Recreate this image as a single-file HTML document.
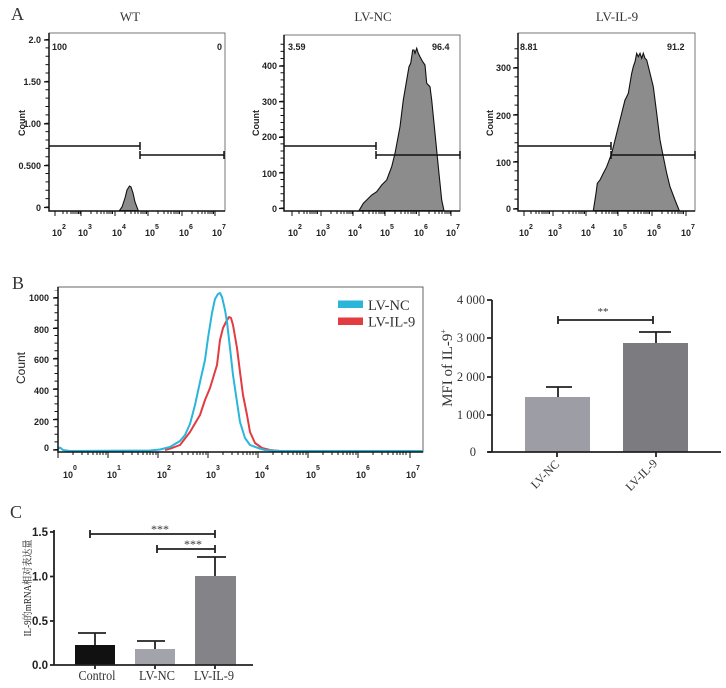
<!DOCTYPE html>
<html><head><meta charset="utf-8"><style>
html,body{margin:0;padding:0;background:#fff;}
svg{display:block;}
.fb{font-family:"Liberation Sans",Arial,sans-serif;font-weight:bold;font-size:9px;fill:#222;}
.sr{font-family:"Liberation Serif","Noto Serif CJK SC",serif;fill:#333;}
</style></head><body>
<svg width="726" height="688" viewBox="0 0 726 688" xmlns="http://www.w3.org/2000/svg">
<rect width="726" height="688" fill="#fff"/>

<!-- Panel labels -->
<text x="11" y="20" class="sr" font-size="18" fill="#222">A</text>
<text x="12" y="289" class="sr" font-size="18" fill="#222">B</text>
<text x="10" y="518" class="sr" font-size="18" fill="#222">C</text>

<!-- ================= A1 WT ================= -->
<text x="130" y="21" class="sr" font-size="13" text-anchor="middle">WT</text>
<rect x="49" y="33" width="176" height="178" fill="none" stroke="#555" stroke-width="0.8"/>
<polygon points="119.3,210.7 122,207 125,198 127,190 129.5,186 131,187 133,193 135,202 138.3,210.7" fill="#8c8c8c" stroke="#111" stroke-width="1.1"/>
<g stroke="#111" stroke-width="1.5" fill="none">
<path d="M49 33V211H225"/>
<path d="M49 146H140M140 142V150M140 155H224M140 151V159M224 151V159"/>
</g>
<line x1="47" y1="207.5" x2="47" y2="36" stroke="#111" stroke-width="3" stroke-dasharray="1 7.375"/>
<path d="M44 207.5h5M44 165.6h5M44 123.8h5M44 81.9h5M44 40h5" stroke="#111" stroke-width="1.3"/>
<path stroke="#111" stroke-width="1" d="M55 211m8 0v3m4-3v3m4-3v3m2-3v3m2-3v3m2-3v3m1.5-3v3m1.5-3v3
M81 211m10 0v3m6-3v3m4-3v3m3-3v3m3-3v3m2-3v3m2-3v3m1.5-3v3
M115 211m10 0v3m6-3v3m4-3v3m3-3v3m3-3v3m2-3v3m2-3v3m1.5-3v3
M148 211m10 0v3m6-3v3m4-3v3m3-3v3m3-3v3m2-3v3m2-3v3m1.5-3v3
M182 211m10 0v3m6-3v3m4-3v3m3-3v3m3-3v3m2-3v3m2-3v3m1.5-3v3
M55 211v5M81 211v5M115 211v5M148 211v5M182 211v5M215 211v5"/>
<g class="fb" text-anchor="end">
<text x="41" y="43">2.0</text><text x="41" y="85">1.50</text><text x="41" y="127">1.00</text><text x="41" y="169">0.500</text><text x="41" y="211">0</text>
</g>
<text class="fb" transform="translate(25,123) rotate(-90)" text-anchor="middle">Count</text>
<text class="fb" x="52" y="50">100</text>
<text class="fb" x="222" y="50" text-anchor="end">0</text>
<g class="fb">
<text x="52" y="236">10<tspan dy="-7" font-size="7">2</tspan></text>
<text x="78" y="236">10<tspan dy="-7" font-size="7">3</tspan></text>
<text x="112" y="236">10<tspan dy="-7" font-size="7">4</tspan></text>
<text x="145" y="236">10<tspan dy="-7" font-size="7">5</tspan></text>
<text x="179" y="236">10<tspan dy="-7" font-size="7">6</tspan></text>
<text x="212" y="236">10<tspan dy="-7" font-size="7">7</tspan></text>
</g>

<!-- ================= A2 LV-NC ================= -->
<text x="373" y="21" class="sr" font-size="13" text-anchor="middle">LV-NC</text>
<rect x="284" y="35" width="176" height="176" fill="none" stroke="#555" stroke-width="0.8"/>
<polygon points="359,210.7 363.3,203.3 366.7,200 371.7,195 376.7,191.7 381.7,185 386.7,180 391.7,166.7 395,153.3 400,126.7 403.3,100 406.7,80 409,66.7 410.7,63.3 412.7,50 414,50 415,53.3 416.7,48.3 418.3,53.3 420,56.7 422.7,61.7 425,65 426.7,83.3 430,86.7 431.7,100 435,133.3 438.3,166.7 441.7,200 444,210.7" fill="#8c8c8c" stroke="#111" stroke-width="1.1"/>
<g stroke="#111" stroke-width="1.5" fill="none">
<path d="M284 35V211H460"/>
<path d="M284 146H376M376 142V150M376 155H460M376 151V159M460 151V159"/>
</g>
<line x1="282" y1="208.5" x2="282" y2="40" stroke="#111" stroke-width="3" stroke-dasharray="1 6.12"/>
<path d="M279 208.5h5M279 172.9h5M279 137.3h5M279 101.7h5M279 66.1h5" stroke="#111" stroke-width="1.3"/>
<path stroke="#111" stroke-width="1" d="M292 211m7 0v3m5-3v3m3-3v3m3-3v3m2-3v3m2-3v3m2-3v3m1.5-3v3
M321 211m10 0v3m6-3v3m4-3v3m3-3v3m3-3v3m2-3v3m2-3v3m1.5-3v3
M353 211m10 0v3m6-3v3m4-3v3m3-3v3m3-3v3m2-3v3m2-3v3m1.5-3v3
M385 211m10 0v3m6-3v3m4-3v3m3-3v3m3-3v3m2-3v3m2-3v3m1.5-3v3
M419 211m10 0v3m6-3v3m4-3v3m3-3v3m3-3v3m2-3v3m2-3v3m1.5-3v3
M292 211v5M321 211v5M353 211v5M385 211v5M419 211v5M451 211v5"/>
<g class="fb" text-anchor="end">
<text x="277" y="69">400</text><text x="277" y="105">300</text><text x="277" y="140">200</text><text x="277" y="177">100</text><text x="277" y="212">0</text>
</g>
<text class="fb" transform="translate(259,123) rotate(-90)" text-anchor="middle">Count</text>
<text class="fb" x="288" y="50">3.59</text>
<text class="fb" x="432" y="50">96.4</text>
<g class="fb">
<text x="288" y="236">10<tspan dy="-7" font-size="7">2</tspan></text>
<text x="316" y="236">10<tspan dy="-7" font-size="7">3</tspan></text>
<text x="348" y="236">10<tspan dy="-7" font-size="7">4</tspan></text>
<text x="380" y="236">10<tspan dy="-7" font-size="7">5</tspan></text>
<text x="414" y="236">10<tspan dy="-7" font-size="7">6</tspan></text>
<text x="446" y="236">10<tspan dy="-7" font-size="7">7</tspan></text>
</g>

<!-- ================= A3 LV-IL-9 ================= -->
<text x="617" y="21" class="sr" font-size="13" text-anchor="middle">LV-IL-9</text>
<rect x="518" y="33" width="177" height="178" fill="none" stroke="#555" stroke-width="0.8"/>
<polygon points="593.3,210.7 596,193.3 597.3,183.3 600,180 603.3,173.3 606.7,166.7 611.7,153.3 616.7,133.3 621.7,113.3 625,100 626.7,96.7 628.3,93.3 631.7,73.3 633.3,66.7 635,61.7 636.7,53.3 638.3,56.7 640,53.3 641.7,58.3 643.3,53.3 645,58.3 646.7,60 650,73.3 653.3,86.7 656.7,113.3 660,140 663.3,156.7 666.7,173.3 670,186.7 675,200 679.3,210.7" fill="#8c8c8c" stroke="#111" stroke-width="1.1"/>
<g stroke="#111" stroke-width="1.5" fill="none">
<path d="M518 33V211H695"/>
<path d="M518 146H611M611 142V150M611 155H695M611 151V159M695 151V159"/>
</g>
<line x1="516" y1="209" x2="516" y2="44" stroke="#111" stroke-width="3" stroke-dasharray="1 8.4"/>
<path d="M513 209h5M513 162h5M513 115h5M513 68h5" stroke="#111" stroke-width="1.3"/>
<path stroke="#111" stroke-width="1" d="M524 211m7 0v3m5-3v3m3-3v3m3-3v3m2-3v3m2-3v3m2-3v3m1.5-3v3
M553 211m10 0v3m6-3v3m4-3v3m3-3v3m3-3v3m2-3v3m2-3v3m1.5-3v3
M586 211m10 0v3m6-3v3m4-3v3m3-3v3m3-3v3m2-3v3m2-3v3m1.5-3v3
M618 211m10 0v3m6-3v3m4-3v3m3-3v3m3-3v3m2-3v3m2-3v3m1.5-3v3
M652 211m10 0v3m6-3v3m4-3v3m3-3v3m3-3v3m2-3v3m2-3v3m1.5-3v3
M524 211v5M553 211v5M586 211v5M618 211v5M652 211v5M686 211v5"/>
<g class="fb" text-anchor="end">
<text x="511" y="71">300</text><text x="511" y="119">200</text><text x="511" y="166">100</text><text x="511" y="212">0</text>
</g>
<text class="fb" transform="translate(493,123) rotate(-90)" text-anchor="middle">Count</text>
<text class="fb" x="520" y="50">8.81</text>
<text class="fb" x="667" y="50">91.2</text>
<g class="fb">
<text x="519" y="236">10<tspan dy="-7" font-size="7">2</tspan></text>
<text x="548" y="236">10<tspan dy="-7" font-size="7">3</tspan></text>
<text x="581" y="236">10<tspan dy="-7" font-size="7">4</tspan></text>
<text x="613" y="236">10<tspan dy="-7" font-size="7">5</tspan></text>
<text x="647" y="236">10<tspan dy="-7" font-size="7">6</tspan></text>
<text x="681" y="236">10<tspan dy="-7" font-size="7">7</tspan></text>
</g>

<!-- ================= B flow overlay ================= -->
<rect x="58" y="287" width="365" height="165" fill="none" stroke="#555" stroke-width="0.9"/>
<polyline fill="none" stroke="#e23b40" stroke-width="2" stroke-linejoin="round" points="165,450 172,448 180,445 190,432 200,415 205,400 210,388 217,365 220,340 223,328 226,322 229,317 231,318 233,325 237,348 240,372 243,395 247,415 250,432 255,443 262,448 270,450 280,451"/>
<polyline fill="none" stroke="#2ab6da" stroke-width="2" stroke-linejoin="round" points="58,449 60,447.5 63,450 70,451 150,450.5 160,449.5 170,447 180,441 185,435 190,424 195,405 200,382 205,360 208,338 212,313 215,299 218,294 220,293 222,297 225,310 227,322 230,348 233,375 237,402 240,422 245,438 250,445 258,448 265,450 280,451 423,451"/>
<g stroke="#111" stroke-width="1.5" fill="none">
<path d="M58 287V452H423"/>
</g>
<line x1="56" y1="450" x2="56" y2="290" stroke="#111" stroke-width="3" stroke-dasharray="1 6.6"/>
<path d="M53 450h5M53 419.6h5M53 389.2h5M53 358.8h5M53 328.4h5M53 298h5" stroke="#111" stroke-width="1.3"/>
<path stroke="#111" stroke-width="1" d="M58 452m15 0v3m9-3v3m6-3v3m5-3v3m4-3v3m3-3v3m3-3v3m3-3v3
M108 452m15 0v3m9-3v3m6-3v3m5-3v3m4-3v3m3-3v3m3-3v3m3-3v3
M158 452m15 0v3m9-3v3m6-3v3m5-3v3m4-3v3m3-3v3m3-3v3m3-3v3
M208 452m15 0v3m9-3v3m6-3v3m5-3v3m4-3v3m3-3v3m3-3v3m3-3v3
M258 452m15 0v3m9-3v3m6-3v3m5-3v3m4-3v3m3-3v3m3-3v3m3-3v3
M308 452m15 0v3m9-3v3m6-3v3m5-3v3m4-3v3m3-3v3m3-3v3m3-3v3
M358 452m15 0v3m9-3v3m6-3v3m5-3v3m4-3v3m3-3v3m3-3v3m3-3v3
M58 452v6M108 452v6M158 452v6M208 452v6M258 452v6M308 452v6M358 452v6M410 452v6"/>
<g class="fb" text-anchor="end" font-size="9">
<text x="49" y="301">1000</text><text x="49" y="333">800</text><text x="49" y="363">600</text><text x="49" y="394">400</text><text x="49" y="425">200</text><text x="49" y="451">0</text>
</g>
<text transform="translate(25,368) rotate(-90)" text-anchor="middle" font-family="Liberation Sans, Arial, sans-serif" font-size="12" fill="#222">Count</text>
<g class="fb" font-weight="normal">
<text x="63" y="478" font-weight="bold">10<tspan dy="-8" font-size="7">0</tspan></text>
<text x="107" y="478" font-weight="bold">10<tspan dy="-8" font-size="7">1</tspan></text>
<text x="157" y="478" font-weight="bold">10<tspan dy="-8" font-size="7">2</tspan></text>
<text x="206" y="478" font-weight="bold">10<tspan dy="-8" font-size="7">3</tspan></text>
<text x="255" y="478" font-weight="bold">10<tspan dy="-8" font-size="7">4</tspan></text>
<text x="306" y="478" font-weight="bold">10<tspan dy="-8" font-size="7">5</tspan></text>
<text x="356" y="478" font-weight="bold">10<tspan dy="-8" font-size="7">6</tspan></text>
<text x="406" y="478" font-weight="bold">10<tspan dy="-8" font-size="7">7</tspan></text>
</g>
<!-- legend -->
<rect x="338" y="300.5" width="25" height="7.5" fill="#2ab6da"/>
<rect x="338" y="317.5" width="25" height="7.5" fill="#e23b40"/>
<text x="368" y="310" class="sr" font-size="14.5" fill="#222">LV-NC</text>
<text x="368" y="326.5" class="sr" font-size="14.5" fill="#222">LV-IL-9</text>

<!-- ================= B bar chart ================= -->
<rect x="525" y="397" width="65" height="55" fill="#9d9da5"/>
<rect x="623" y="343" width="65" height="109" fill="#7b7b80"/>
<g stroke="#222" stroke-width="1.8" fill="none">
<path d="M492 300V452M488 452H721"/>
<path d="M487 300h5M487 338h5M487 377h5M487 415h5M487 452h5"/>
<path d="M557 452v5M656 452v5"/>
<path d="M558 397V387M546 387H572"/>
<path d="M656 343V332M639 332H671"/>
<path d="M558 320H653M558 316V324M653 316V324"/>
</g>
<g class="sr" font-size="12.5" text-anchor="end" fill="#222">
<text x="485" y="304">4 000</text><text x="485" y="342">3 000</text><text x="485" y="381">2 000</text><text x="485" y="419">1 000</text><text x="476" y="456">0</text>
</g>
<text x="603" y="315" class="sr" font-size="11" fill="#888" text-anchor="middle">**</text>
<text transform="translate(452,368) rotate(-90)" class="sr" font-size="15" fill="#222" text-anchor="middle">MFI of IL-9<tspan dy="-6" font-size="8">+</tspan></text>
<text transform="translate(560,465) rotate(-45)" class="sr" font-size="12" fill="#222" text-anchor="end">LV-NC</text>
<text transform="translate(658,464) rotate(-45)" class="sr" font-size="12" fill="#222" text-anchor="end">LV-IL-9</text>

<!-- ================= C bar chart ================= -->
<rect x="75" y="645" width="40" height="20" fill="#111"/>
<rect x="135" y="649" width="40" height="16" fill="#a3a3ab"/>
<rect x="195" y="576" width="41" height="89" fill="#838388"/>
<g stroke="#222" stroke-width="1.8" fill="none">
<path d="M54 530V665M50 665H253"/>
<path d="M50 532h4M50 576.5h4M50 621h4"/>
<path d="M95 665v4M155 665v4M215 665v4"/>
<path d="M95 645V633M78 633H106"/>
<path d="M155 649V641M137 641H165"/>
<path d="M215 576V557M197 557H226"/>
<path d="M90 534H215M90 530V538M215 530V538"/>
<path d="M157 549H215M157 545V553M215 545V553"/>
</g>
<g font-family="Liberation Sans, Arial, sans-serif" font-weight="bold" font-size="11.5" fill="#222" text-anchor="end">
<text x="48" y="536">1.5</text><text x="48" y="580.5">1.0</text><text x="48" y="625">0.5</text><text x="48" y="669">0.0</text>
</g>
<text x="160" y="533" class="sr" font-size="12" fill="#777" text-anchor="middle">***</text>
<text x="193" y="548" class="sr" font-size="12" fill="#777" text-anchor="middle">***</text>
<text transform="translate(31,588) rotate(-90)" font-family="Liberation Serif, Noto Serif CJK SC, Noto Sans CJK SC, serif" font-size="10" fill="#222" text-anchor="middle" textLength="97" lengthAdjust="spacingAndGlyphs">IL-9的mRNA相对表达量</text>
<g class="sr" font-size="14" fill="#222" text-anchor="middle">
<text x="97" y="680" textLength="37" lengthAdjust="spacingAndGlyphs">Control</text>
<text x="157" y="680" textLength="36" lengthAdjust="spacingAndGlyphs">LV-NC</text>
<text x="214" y="680" textLength="40" lengthAdjust="spacingAndGlyphs">LV-IL-9</text>
</g>
</svg>
</body></html>
